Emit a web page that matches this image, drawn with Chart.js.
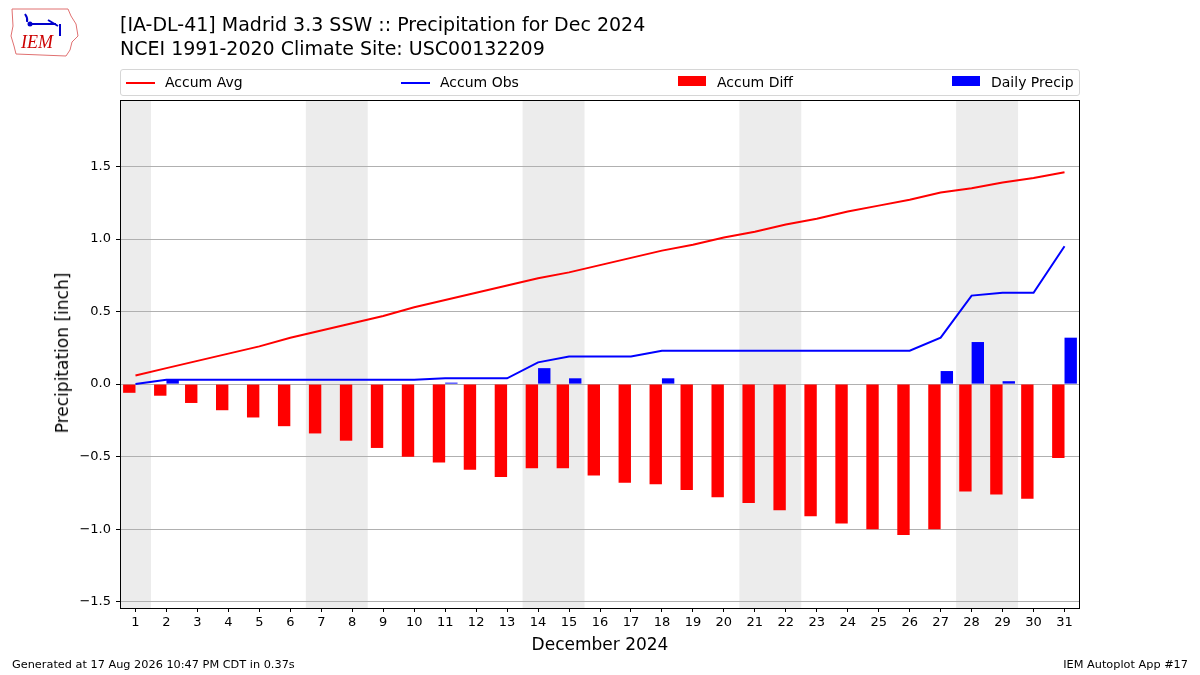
<!DOCTYPE html>
<html>
<head>
<meta charset="utf-8">
<script src="https://cdn.jsdelivr.net/npm/chart.js@4"></script>
<style>
  body { margin: 0; background: #fff; font-family: "DejaVu Sans", sans-serif; color: #000; }
  #wrap { position: relative; width: 1200px; height: 675px; overflow: hidden; }
  #chart { position: absolute; left: 0; top: 0; }
  .abs { position: absolute; white-space: nowrap; }
  #title { left: 120px; top: 12px; font-size: 19px; line-height: 24px; }
  #legend { left: 120px; top: 69px; width: 958px; height: 25px; border: 1px solid #d6d6d6; border-radius: 3px; }
  .lg { position: absolute; top: 0; height: 25px; line-height: 24px; font-size: 14px; }
  .lg i { position: absolute; left: 0; }
  .lg span { position: absolute; white-space: nowrap; }
  #ytitle { left: 62px; top: 353px; font-size: 17px; transform: translate(-50%, -50%) rotate(-90deg); }
  #xtitle { left: 600px; top: 634px; font-size: 17px; transform: translateX(-50%); }
  .foot { top: 658px; font-size: 11.3px; }
</style>
</head>
<body>
<div id="wrap">
  <canvas id="chart" width="1200" height="675"></canvas>
  <svg class="abs" style="left:8px;top:6px" width="72" height="52" viewBox="0 0 72 52">
    <path d="M4 3 L60 3 L63 10 L68 18 L70 30 L64 36 L62 44 L58 50 L8 48 L6 40 L3 30 L5 20 Z" fill="none" stroke="#e07070" stroke-width="1"/>
    <path d="M17 8 Q20 12 19 16 M22 18 L48 18 M40 14 L50 20 M52 18 L52 30" stroke="#0000cc" stroke-width="2" fill="none"/>
    <circle cx="22" cy="18" r="2.5" fill="#0000cc"/>
    <text x="13" y="42" font-family="Liberation Serif, serif" font-style="italic" font-size="18" fill="#cc0000">IEM</text>
  </svg>
  <div id="title" class="abs">[IA-DL-41] Madrid 3.3 SSW :: Precipitation for Dec 2024<br>NCEI 1991-2020 Climate Site: USC00132209</div>
  <div id="legend" class="abs">
    <div class="lg" style="left:5px"><i style="top:12px;width:29px;height:2px;background:#ff0000"></i><span style="left:39px">Accum Avg</span></div>
    <div class="lg" style="left:280px"><i style="top:12px;width:29px;height:2px;background:#0000ff"></i><span style="left:39px">Accum Obs</span></div>
    <div class="lg" style="left:557px"><i style="top:6px;width:28px;height:10px;background:#ff0000"></i><span style="left:39px">Accum Diff</span></div>
    <div class="lg" style="left:831px"><i style="top:6px;width:28px;height:10px;background:#0000ff"></i><span style="left:39px">Daily Precip</span></div>
  </div>
  <div id="ytitle" class="abs">Precipitation [inch]</div>
  <div id="xtitle" class="abs">December 2024</div>
  <div class="abs foot" style="left:12px">Generated at 17 Aug 2026 10:47 PM CDT in 0.37s</div>
  <div class="abs foot" style="right:12px">IEM Autoplot App #17</div>
</div>
<script>
const days = [1, 2, 3, 4, 5, 6, 7, 8, 9, 10, 11, 12, 13, 14, 15, 16, 17, 18, 19, 20, 21, 22, 23, 24, 25, 26, 27, 28, 29, 30, 31];
const weekendDays = [1, 7, 8, 14, 15, 21, 22, 28, 29];

const accumAvg = [0.06, 0.11, 0.16, 0.21, 0.26, 0.32, 0.37, 0.42, 0.47, 0.53, 0.58, 0.63, 0.68, 0.73, 0.77, 0.82,
  0.87, 0.92, 0.96, 1.01, 1.05, 1.10, 1.14, 1.19, 1.23, 1.27, 1.32, 1.35, 1.39, 1.42, 1.46];
const accumObs = [0.00, 0.03, 0.03, 0.03, 0.03, 0.03, 0.03, 0.03, 0.03, 0.03, 0.04, 0.04, 0.04, 0.15, 0.19, 0.19,
  0.19, 0.23, 0.23, 0.23, 0.23, 0.23, 0.23, 0.23, 0.23, 0.23, 0.32, 0.61, 0.63, 0.63, 0.95];
const accumDiff = [-0.06, -0.08, -0.13, -0.18, -0.23, -0.29, -0.34, -0.39, -0.44, -0.50, -0.54, -0.59, -0.64, -0.58, -0.58, -0.63,
  -0.68, -0.69, -0.73, -0.78, -0.82, -0.87, -0.91, -0.96, -1.00, -1.04, -1.00, -0.74, -0.76, -0.79, -0.51];
const dailyPrecip = [0, 0.03, 0, 0, 0, 0, 0, 0, 0, 0, 0.01, 0, 0, 0.11, 0.04, 0,
  0, 0.04, 0, 0, 0, 0, 0, 0, 0, 0, 0.09, 0.29, 0.02, 0, 0.32];

const yTicks = [-1.5, -1.0, -0.5, 0.0, 0.5, 1.0, 1.5];
const yMin = -1.543;
const yMax = 1.958;

// grey bands behind weekends (consecutive days merged), then a black frame round the plot
const weekendShade = {
  id: "weekendShade",
  beforeDraw(chart) {
    const { ctx, chartArea, scales } = chart;
    const half = (chartArea.right - chartArea.left) / days.length / 2;
    const spans = [];
    weekendDays.forEach(d => {
      const last = spans[spans.length - 1];
      if (last && last[1] === d - 1) last[1] = d;
      else spans.push([d, d]);
    });
    ctx.save();
    ctx.fillStyle = "#ececec";
    spans.forEach(([a, b]) => {
      const l = Math.max(chartArea.left, scales.x.getPixelForValue(days.indexOf(a)) - half);
      const r = Math.min(chartArea.right, scales.x.getPixelForValue(days.indexOf(b)) + half);
      ctx.fillRect(l, chartArea.top, r - l, chartArea.bottom - chartArea.top);
    });
    ctx.restore();
  },
  afterDraw(chart) {
    const { ctx, chartArea } = chart;
    ctx.save();
    ctx.strokeStyle = "#000";
    ctx.lineWidth = 1;
    ctx.strokeRect(chartArea.left + 0.5, chartArea.top + 0.5,
      chartArea.right - chartArea.left - 1, chartArea.bottom - chartArea.top);
    ctx.restore();
  }
};

const tickFont = { family: "DejaVu Sans", size: 13 };

new Chart(document.getElementById("chart"), {
  data: {
    labels: days.map(String),
    datasets: [
      { type: "line", label: "Accum Avg", data: accumAvg, borderColor: "#ff0000", borderWidth: 2, pointRadius: 0, order: 0 },
      { type: "line", label: "Accum Obs", data: accumObs, borderColor: "#0000ff", borderWidth: 2, pointRadius: 0, order: 1 },
      { type: "bar", label: "Accum Diff", data: accumDiff, backgroundColor: "#ff0000", order: 2,
        categoryPercentage: 0.8, barPercentage: 1.0 },
      { type: "bar", label: "Daily Precip", data: dailyPrecip, backgroundColor: "#0000ff", order: 3,
        categoryPercentage: 0.8, barPercentage: 1.0 }
    ]
  },
  options: {
    responsive: false,
    devicePixelRatio: 1,
    animation: false,
    events: [],
    layout: { padding: { top: 100, right: 120, left: 0, bottom: 0 } },
    plugins: { legend: { display: false }, tooltip: { enabled: false } },
    scales: {
      x: {
        type: "category",
        offset: true,
        afterFit: s => { s.height = 67; },
        grid: { offset: false, drawOnChartArea: false, tickLength: 4, tickColor: "#000" },
        border: { display: false },
        ticks: { font: tickFont, color: "#000", padding: 3, maxRotation: 0, autoSkip: false }
      },
      y: {
        min: yMin,
        max: yMax,
        afterFit: s => { s.width = 120; },
        afterBuildTicks: s => { s.ticks = yTicks.map(v => ({ value: v })); },
        grid: { color: "#b0b0b0", lineWidth: 1, tickLength: 4, tickColor: "#000" },
        border: { display: false },
        ticks: {
          font: tickFont, color: "#000", padding: 5,
          callback: v => (v < 0 ? "\u2212" : "") + Math.abs(v).toFixed(1)
        }
      }
    }
  },
  plugins: [weekendShade]
});
</script>
</body>
</html>
